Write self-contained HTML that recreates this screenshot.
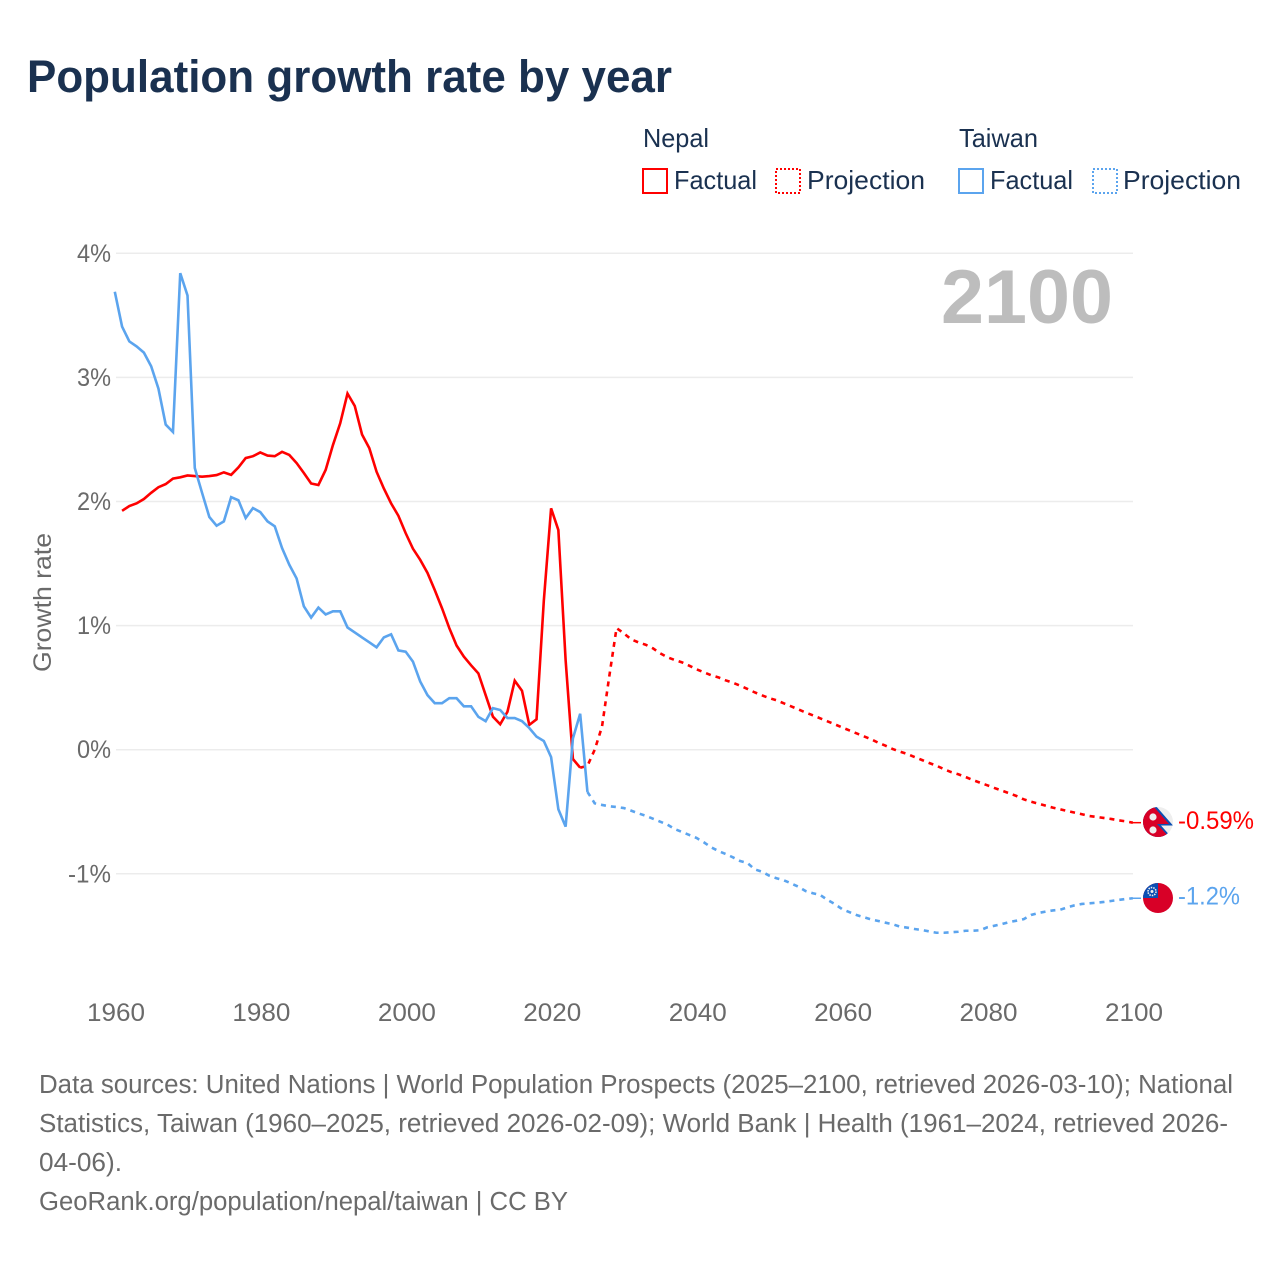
<!DOCTYPE html>
<html lang="en">
<head>
<meta charset="utf-8">
<title>Population growth rate by year</title>
<style>
html,body{margin:0;padding:0;background:#fff;width:1280px;height:1280px;overflow:hidden}
svg{display:block}
text{font-family:"Liberation Sans",sans-serif}
.title{font-size:45px;font-weight:700;fill:#1a3150}
.legend{font-size:26px;fill:#1a3150}
.src{font-size:25.5px;fill:#6a6a6a}
</style>
</head>
<body>
<svg id="chart" xmlns="http://www.w3.org/2000/svg" width="1280" height="1280" viewBox="0 0 1280 1280">
  <text class="title" x="27" y="92" textLength="645" lengthAdjust="spacingAndGlyphs">Population growth rate by year</text>

  <g>
    <text class="legend" x="643" y="147" textLength="66" lengthAdjust="spacingAndGlyphs">Nepal</text>
    <text class="legend" x="959" y="147" textLength="79" lengthAdjust="spacingAndGlyphs">Taiwan</text>

    <rect x="643" y="169" width="24" height="24" fill="none" stroke="#ff0000" stroke-width="2"/>
    <text class="legend" x="674" y="189" textLength="83" lengthAdjust="spacingAndGlyphs">Factual</text>
    <rect x="776" y="169" width="24" height="24" fill="none" stroke="#ff0000" stroke-width="2" stroke-dasharray="2 2"/>
    <text class="legend" x="807" y="189" textLength="118" lengthAdjust="spacingAndGlyphs">Projection</text>

    <rect x="959" y="169" width="24" height="24" fill="none" stroke="#5ba4ee" stroke-width="2"/>
    <text class="legend" x="990" y="189" textLength="83" lengthAdjust="spacingAndGlyphs">Factual</text>
    <rect x="1093" y="169" width="24" height="24" fill="none" stroke="#5ba4ee" stroke-width="2" stroke-dasharray="2 2"/>
    <text class="legend" x="1123" y="189" textLength="118" lengthAdjust="spacingAndGlyphs">Projection</text>
  </g>

  <g id="grid"></g>
  <g id="yticks"></g>
  <g id="xticks"></g>

  <text transform="translate(51,672) rotate(-90)" font-size="25" fill="#6a6a6a" textLength="139" lengthAdjust="spacingAndGlyphs">Growth rate</text>

  <text x="941" y="323" font-size="76" font-weight="700" fill="#bdbdbd" textLength="172" lengthAdjust="spacingAndGlyphs">2100</text>

  <g id="series"></g>

  <defs>
    <clipPath id="clip-nepal"><circle cx="1158" cy="822" r="15"/></clipPath>
    <clipPath id="clip-taiwan"><circle cx="1158" cy="898" r="15"/></clipPath>
  </defs>

  <g clip-path="url(#clip-nepal)">
    <rect x="1143" y="807" width="30" height="30" fill="#eeeeee"/>
    <polygon points="1143,805 1155,805 1173,825.5 1161,825.5 1173,839 1143,839" fill="#0b4fb3"/>
    <polygon points="1143,807 1154,807 1169,824 1157,824 1170,838 1143,838" fill="#d80027"/>
    <circle cx="1153" cy="817" r="3.6" fill="#eeeeee"/>
    <circle cx="1153" cy="830" r="3.6" fill="#eeeeee"/>
  </g>
  <g clip-path="url(#clip-taiwan)">
    <rect x="1143" y="883" width="30" height="30" fill="#d80027"/>
    <rect x="1143" y="883" width="15" height="15" fill="#0b4fb3"/>
    <circle cx="1152" cy="891.5" r="4" fill="none" stroke="#eeeeee" stroke-width="1.6" stroke-dasharray="1.5 1"/>
    <circle cx="1152" cy="891.5" r="1.5" fill="#eeeeee"/>
  </g>

  <g id="end-labels"></g>

  <g>
    <text class="src" x="39" y="1093" textLength="1194" lengthAdjust="spacingAndGlyphs">Data sources: United Nations | World Population Prospects (2025–2100, retrieved 2026-03-10); National</text>
    <text class="src" x="39" y="1132" textLength="1189" lengthAdjust="spacingAndGlyphs">Statistics, Taiwan (1960–2025, retrieved 2026-02-09); World Bank | Health (1961–2024, retrieved 2026-</text>
    <text class="src" x="39" y="1171" textLength="83" lengthAdjust="spacingAndGlyphs">04-06).</text>
    <text class="src" x="39" y="1210" textLength="529" lengthAdjust="spacingAndGlyphs">GeoRank.org/population/nepal/taiwan | CC BY</text>
  </g>
</svg>

<script>
const yTickValues = [4, 3, 2, 1, 0, -1];
const yTickLabels = ["4%", "3%", "2%", "1%", "0%", "-1%"];
const xTickYears = [1960, 1980, 2000, 2020, 2040, 2060, 2080, 2100];
const xTickLabels = ["1960", "1980", "2000", "2020", "2040", "2060", "2080", "2100"];

const taiwanFactualStart = 1960;
const taiwanFactual = [3.69, 3.41, 3.29, 3.25, 3.20, 3.09, 2.91, 2.62, 2.56, 3.84,
  3.66, 2.27, 2.07, 1.875, 1.805, 1.84, 2.035, 2.01, 1.867, 1.947,
  1.915, 1.84, 1.80, 1.625, 1.49, 1.38, 1.155, 1.065, 1.145, 1.09,
  1.115, 1.115, 0.985, 0.945, 0.905, 0.865, 0.825, 0.905, 0.93, 0.80,
  0.79, 0.71, 0.55, 0.44, 0.375, 0.375, 0.415, 0.415, 0.35, 0.35,
  0.265, 0.23, 0.335, 0.32, 0.255, 0.255, 0.23, 0.175, 0.105, 0.07,
  -0.06, -0.48, -0.62, 0.09, 0.29, -0.34];

const taiwanProjectionStart = 2025;
const taiwanProjection = [-0.34, -0.432, -0.445, -0.456, -0.462, -0.47, -0.491, -0.513, -0.532, -0.556,
  -0.58, -0.604, -0.639, -0.663, -0.687, -0.711, -0.746, -0.786, -0.816, -0.84,
  -0.867, -0.897, -0.913, -0.964, -0.983, -1.015, -1.036, -1.052, -1.077, -1.104,
  -1.139, -1.157, -1.17, -1.21, -1.243, -1.284, -1.308, -1.332, -1.35, -1.367,
  -1.38, -1.394, -1.407, -1.426, -1.434, -1.445, -1.453, -1.464, -1.475, -1.475,
  -1.471, -1.467, -1.459, -1.459, -1.455, -1.431, -1.418, -1.405, -1.389, -1.378,
  -1.365, -1.332, -1.316, -1.305, -1.295, -1.29, -1.27, -1.254, -1.243, -1.238,
  -1.233, -1.227, -1.219, -1.211, -1.203, -1.197];

const nepalFactualStart = 1961;
const nepalFactual = [1.925, 1.963, 1.985, 2.02, 2.07, 2.115, 2.14, 2.185, 2.195,
  2.21, 2.205, 2.20, 2.205, 2.213, 2.235, 2.215, 2.275, 2.35, 2.365,
  2.395, 2.37, 2.365, 2.40, 2.375, 2.31, 2.23, 2.145, 2.133, 2.255,
  2.455, 2.63, 2.87, 2.77, 2.54, 2.43, 2.24, 2.105, 1.985, 1.885,
  1.745, 1.62, 1.53, 1.425, 1.287, 1.14, 0.98, 0.84, 0.75, 0.68,
  0.615, 0.44, 0.266, 0.205, 0.306, 0.556, 0.475, 0.2, 0.245, 1.2,
  1.945, 1.77, 0.72, -0.075, -0.145];

const nepalProjectionStart = 2024;
const nepalProjection = [-0.145, -0.13, 0.0, 0.185, 0.59, 0.98,
  0.938, 0.89, 0.865, 0.846, 0.817, 0.777, 0.745, 0.723, 0.704, 0.677,
  0.648, 0.624, 0.60, 0.583, 0.559, 0.54, 0.516, 0.49, 0.462, 0.438,
  0.416, 0.398, 0.374, 0.35, 0.325, 0.30, 0.277, 0.253, 0.229, 0.205,
  0.18, 0.156, 0.132, 0.108, 0.084, 0.056, 0.032, 0.005, -0.016, -0.035,
  -0.059, -0.083, -0.107, -0.129, -0.156, -0.18, -0.198, -0.22, -0.244, -0.266,
  -0.287, -0.309, -0.33, -0.351, -0.373, -0.40, -0.419, -0.435, -0.451, -0.467,
  -0.48, -0.494, -0.507, -0.52, -0.534, -0.542, -0.55, -0.558, -0.569, -0.577,
  -0.588];

const endLabels = ["-0.59%", "-1.2%"];

const NS = "http://www.w3.org/2000/svg";
const RED = "#ff0000";
const BLUE = "#5ba4ee";
const GREY = "#6a6a6a";
const PLOT_LEFT = 116;
const PLOT_RIGHT = 1134;
const MARK_SHIFT = -1.2;

function xScale(year) {
  return PLOT_LEFT + (year - 1960) * (PLOT_RIGHT - PLOT_LEFT) / 140;
}
function yScale(value) {
  return 749.7 - 124.1 * value;
}
function pointsFor(startYear, values) {
  return values.map(function (v, i) {
    return (xScale(startYear + i) + MARK_SHIFT).toFixed(2) + "," + yScale(v).toFixed(2);
  }).join(" ");
}
function makeText(parent, x, y, anchor, size, fill, content) {
  const t = document.createElementNS(NS, "text");
  t.setAttribute("x", x);
  t.setAttribute("y", y);
  t.setAttribute("text-anchor", anchor);
  t.setAttribute("font-size", size);
  t.setAttribute("fill", fill);
  t.textContent = content;
  parent.appendChild(t);
  return t;
}
function makeLine(parent, startYear, values, color, dashed) {
  const p = document.createElementNS(NS, "polyline");
  p.setAttribute("points", pointsFor(startYear, values));
  p.setAttribute("fill", "none");
  p.setAttribute("stroke", color);
  p.setAttribute("stroke-width", "2.6");
  p.setAttribute("stroke-linejoin", "miter");
  if (dashed) {
    p.setAttribute("stroke-dasharray", "5 5");
  }
  parent.appendChild(p);
  return p;
}

const gridGroup = document.getElementById("grid");
const yTickGroup = document.getElementById("yticks");
const xTickGroup = document.getElementById("xticks");
const seriesGroup = document.getElementById("series");
const endGroup = document.getElementById("end-labels");

yTickValues.forEach(function (v, i) {
  const ln = document.createElementNS(NS, "line");
  
  
  ln.setAttribute("x1", PLOT_LEFT);
  ln.setAttribute("x2", PLOT_RIGHT - 1);
  ln.setAttribute("y1", yScale(v));
  ln.setAttribute("y2", yScale(v));
  ln.setAttribute("stroke", "#ececec");
  ln.setAttribute("stroke-width", "1.5");
  gridGroup.appendChild(ln);
  const lab = makeText(yTickGroup, 111, yScale(v) + 8.5, "end", 25, GREY, yTickLabels[i]);
  
  
  lab.setAttribute("textLength", yTickLabels[i].length === 3 ? 43 : 34);
  lab.setAttribute("lengthAdjust", "spacingAndGlyphs");
});

xTickYears.forEach(function (yr, i) {
  const lab = makeText(xTickGroup, xScale(yr), 1021, "middle", 25, GREY, xTickLabels[i]);
  
  
  lab.setAttribute("textLength", 58);
  lab.setAttribute("lengthAdjust", "spacingAndGlyphs");
});

const nepalFactualLine = makeLine(seriesGroup, nepalFactualStart, nepalFactual, RED, false);



const nepalProjectionLine = makeLine(seriesGroup, nepalProjectionStart, nepalProjection, RED, true);



const taiwanFactualLine = makeLine(seriesGroup, taiwanFactualStart, taiwanFactual, BLUE, false);



const taiwanProjectionLine = makeLine(seriesGroup, taiwanProjectionStart, taiwanProjection, BLUE, true);



const nepalLast = nepalProjection[nepalProjection.length - 1];
const taiwanLast = taiwanProjection[taiwanProjection.length - 1];

const nepalConnector = document.createElementNS(NS, "line");


nepalConnector.setAttribute("x1", PLOT_RIGHT - 3);
nepalConnector.setAttribute("x2", 1141);
nepalConnector.setAttribute("y1", yScale(nepalLast));
nepalConnector.setAttribute("y2", yScale(nepalLast));
nepalConnector.setAttribute("stroke", RED);
nepalConnector.setAttribute("stroke-width", "1.5");
endGroup.appendChild(nepalConnector);

const taiwanConnector = document.createElementNS(NS, "line");


taiwanConnector.setAttribute("x1", PLOT_RIGHT - 3);
taiwanConnector.setAttribute("x2", 1141);
taiwanConnector.setAttribute("y1", yScale(taiwanLast));
taiwanConnector.setAttribute("y2", yScale(taiwanLast));
taiwanConnector.setAttribute("stroke", BLUE);
taiwanConnector.setAttribute("stroke-width", "1.5");
endGroup.appendChild(taiwanConnector);

const nepalEndLabel = makeText(endGroup, 1178, yScale(nepalLast) + 6.5, "start", 25, RED, endLabels[0]);


nepalEndLabel.setAttribute("textLength", 76);
nepalEndLabel.setAttribute("lengthAdjust", "spacingAndGlyphs");

const taiwanEndLabel = makeText(endGroup, 1178, yScale(taiwanLast) + 6.5, "start", 25, BLUE, endLabels[1]);


taiwanEndLabel.setAttribute("textLength", 62);
taiwanEndLabel.setAttribute("lengthAdjust", "spacingAndGlyphs");
</script>
</body>
</html>
